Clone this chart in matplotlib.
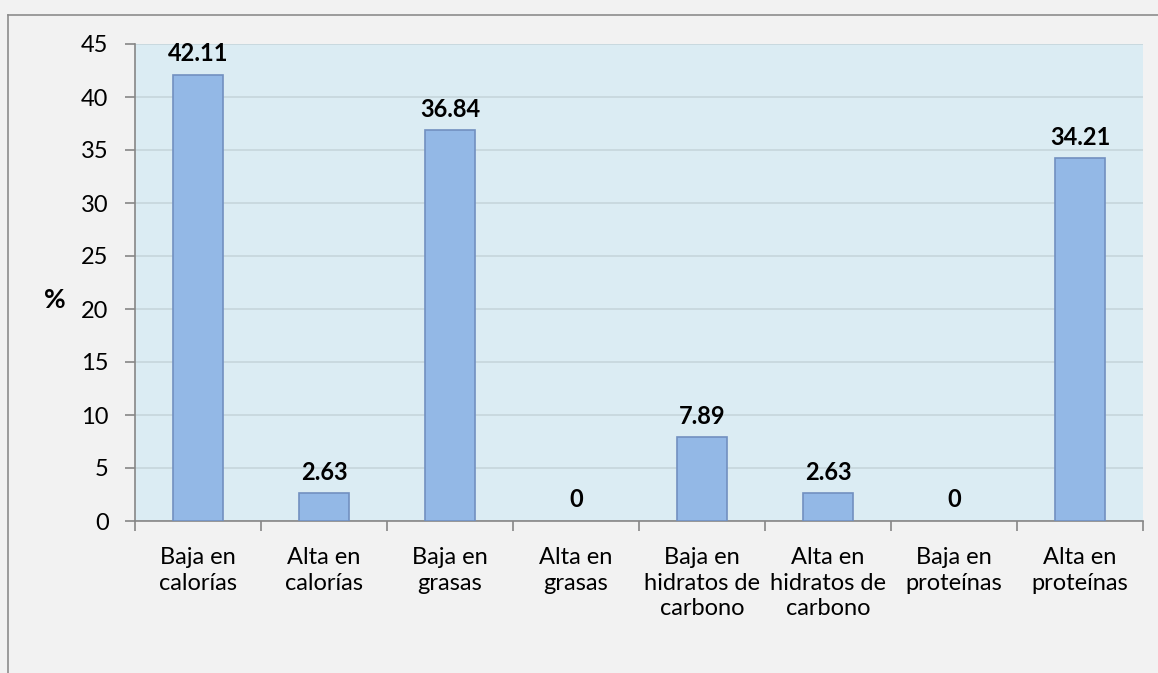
import numpy as np
import matplotlib.pyplot as plt
from matplotlib.lines import Line2D

categories = ['Baja en\ncalorías', 'Alta en\ncalorías', 'Baja en\ngrasas', 'Alta en\ngrasas',
              'Baja en\nhidratos de\ncarbono', 'Alta en\nhidratos de\ncarbono',
              'Baja en\nproteínas', 'Alta en\nproteínas']
values = [42.11, 2.63, 36.84, 0, 7.89, 2.63, 0, 34.21]
labels = ['42.11', '2.63', '36.84', '0', '7.89', '2.63', '0', '34.21']

plt.rcParams['font.family'] = ['Lato', 'DejaVu Sans']

fig = plt.figure(figsize=(11.58, 6.73), dpi=100, facecolor='#f2f2f2')
ax = fig.add_axes([135 / 1158, 1 - 521 / 673, 1008 / 1158, 477 / 673])
ax.set_facecolor('#dbecf3')

x = np.arange(len(categories))
edges = ['#7290c0' if v > 0 else 'none' for v in values]
ax.bar(x, values, width=0.4, color='#93b8e6', edgecolor=edges, linewidth=1.2, zorder=3)

for xi, v, t in zip(x, values, labels):
    ax.text(xi, v + 0.9, t, ha='center', va='bottom', fontsize=17, fontweight='bold', zorder=5)

ax.set_xlim(-0.5, len(categories) - 0.5)
ax.set_ylim(0, 45)
ax.set_yticks(np.arange(0, 46, 5))
ax.yaxis.grid(True, color='#c6d6dc', linewidth=1.2, zorder=0)
ax.set_xticks(x)
ax.set_xticklabels(categories, fontsize=17, linespacing=1.25)
ax.set_xticks(np.arange(-0.5, len(categories)), minor=True)
ax.tick_params(axis='x', which='major', length=0, pad=19)
ax.tick_params(axis='x', which='minor', length=7, color='#868686', width=1.2)
ax.tick_params(axis='y', length=7, color='#868686', width=1.2, labelsize=17, pad=12)

for s in ['top', 'right']:
    ax.spines[s].set_visible(False)
for s in ['left', 'bottom']:
    ax.spines[s].set_color('#868686')
    ax.spines[s].set_linewidth(1.2)

fig.text(55 / 1158, 1 - 300 / 673, '%', fontsize=19, fontweight='bold', ha='center', va='center')

# outer chart border
fig.add_artist(Line2D([8 / 1158, 1], [1 - 15 / 673, 1 - 15 / 673], color='#8c8c8c', linewidth=1.2))
fig.add_artist(Line2D([8 / 1158, 8 / 1158], [0, 1 - 15 / 673], color='#8c8c8c', linewidth=1.2))

fig.savefig('out.png', dpi=100, facecolor=fig.get_facecolor())
